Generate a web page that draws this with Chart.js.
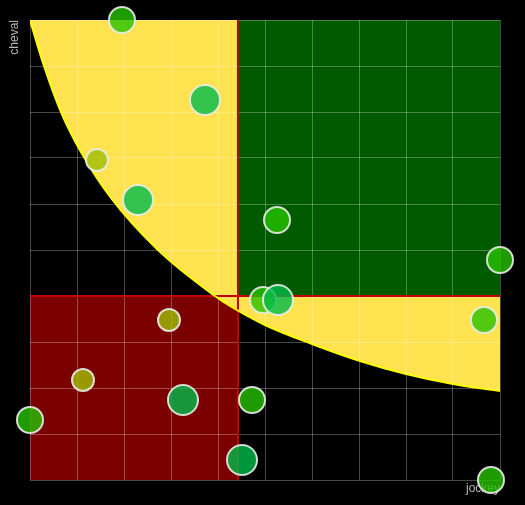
<!DOCTYPE html>
<html>
<head>
<meta charset="utf-8">
<script src="https://cdn.jsdelivr.net/npm/chart.js@4.4.1/dist/chart.umd.min.js"></script>
<style>
  html,body{margin:0;padding:0;background:#000;}
  canvas{display:block;}
</style>
</head>
<body>
<canvas id="chart" width="525" height="505"></canvas>
<script>
// axes run from 0 to these values, no tick labels shown
const xMax = 47, yMax = 23;
const jockeyCut = 20.8, chevalCut = 9.2;

// bubbles: jockey (x), cheval (y), size (r) and colour group
const jockeyVals = [9.2, 17.5, 6.7, 10.8, 24.7, 47, 23.3, 24.8, 45.4, 13.9, 5.3, 0, 15.3, 22.2, 21.2, 46.1];
const chevalVals = [23, 19, 16, 14, 13, 11, 9, 9, 8, 8, 5, 3, 4, 4, 1, 0];
const sizes      = [13, 15, 11, 15, 13, 13, 13, 15, 13, 11, 11, 13, 15, 13, 15, 13];
const tones      = ['g','t','y','t','g','g','g','t','g','y','y','g','t','g','t','g'];

// frontier curve
const curveX = [0, 1.4, 3.1, 5.1, 8.1, 12.8, 18.5, 20, 23.5, 28.2, 33, 37.6, 42.3, 47];
const curveY = [23, 20.7, 18.4, 16.4, 14.1, 11.5, 9.2, 8.7, 7.75, 6.8, 5.95, 5.3, 4.8, 4.45];

const palette = { g:'rgba(39,194,0,0.8)', t:'rgba(0,188,75,0.8)', y:'rgba(160,190,5,0.8)' };
const gridCol = 'rgba(255,255,255,0.28)';

const bubbles = jockeyVals.map((x,i)=>({x, y: chevalVals[i], r: sizes[i]}));
const curve = curveX.map((x,i)=>({x, y: curveY[i]}));
const greenZone = [{x:jockeyCut,y:yMax},{x:jockeyCut,y:chevalCut},{x:xMax,y:chevalCut}];
const redZone = [{x:0,y:chevalCut},{x:jockeyCut,y:chevalCut},{x:jockeyCut,y:0}];

Chart.defaults.font.family = '"Liberation Sans", Arial, sans-serif';
Chart.defaults.color = '#b8b8b8';

new Chart(document.getElementById('chart'), {
  type: 'bubble',
  data: {
    datasets: [
      { type:'bubble', data: bubbles, backgroundColor: tones.map(t=>palette[t]),
        borderColor:'rgba(232,236,232,0.9)', borderWidth:2, hoverBorderWidth:2, order:0, clip:false },
      { type:'line', data: greenZone, borderColor:'#c40000', borderWidth:2, backgroundColor:'#005a00',
        fill:{value:yMax}, pointRadius:0, order:1 },
      { type:'line', data: curve, borderColor:'#ffff00', borderWidth:2, backgroundColor:'#ffe24f',
        fill:'end', pointRadius:0, cubicInterpolationMode:'monotone', order:2 },
      { type:'line', data: redZone, borderColor:'#c40000', borderWidth:2, backgroundColor:'#7b0000',
        fill:'origin', pointRadius:0, order:3 }
    ]
  },
  options: {
    responsive:false, animation:false, devicePixelRatio:1,
    layout:{ padding:{ top:20, right:25, left:7.8, bottom:4.8 } },
    plugins:{ legend:{display:false}, tooltip:{enabled:false}, filler:{drawTime:'beforeDraw'} },
    scales:{
      x:{ type:'linear', min:0, max:xMax,
          ticks:{display:false, count:11},
          grid:{color:gridCol, drawTicks:false}, border:{display:false},
          title:{display:true, text:'jockey', align:'end', font:{size:12}, padding:{top:1.8, bottom:4}} },
      y:{ type:'linear', min:0, max:yMax,
          ticks:{display:false, count:11},
          grid:{color:gridCol, drawTicks:false}, border:{display:false},
          title:{display:true, text:'cheval', align:'end', font:{size:12}, padding:{top:0, bottom:7.8}} }
    }
  }
});
</script>
</body>
</html>
